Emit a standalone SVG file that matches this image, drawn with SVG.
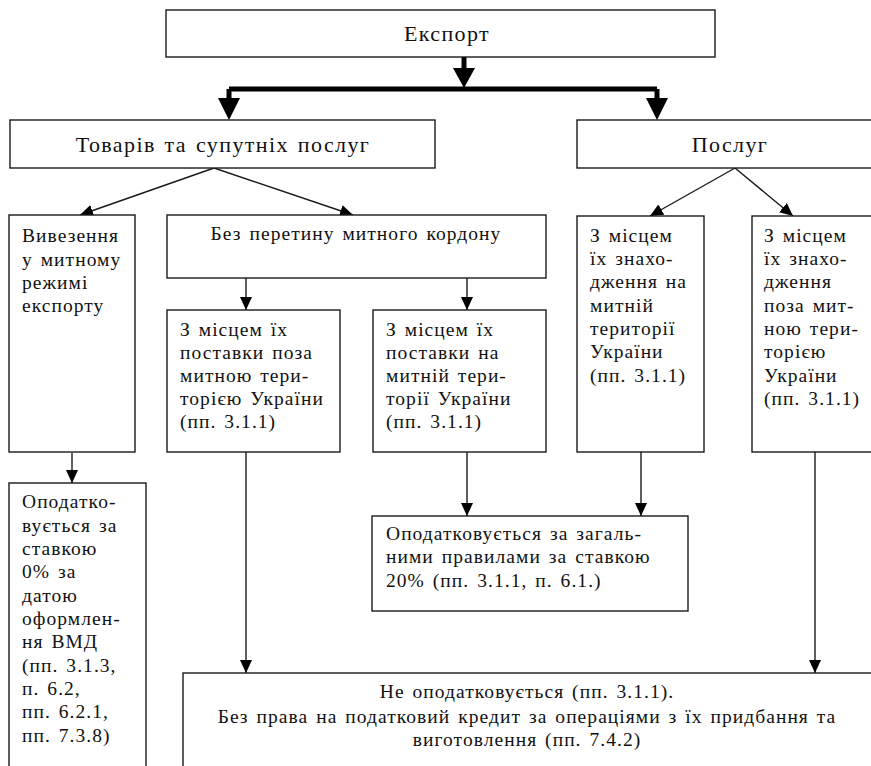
<svg xmlns="http://www.w3.org/2000/svg" width="871" height="766" viewBox="0 0 871 766">
  <style>
    .box { fill: #fff; stroke: #1a1a1a; stroke-width: 1.4; }
    .t { font-family: 'Liberation Serif', 'Times New Roman', 'DejaVu Serif', serif; font-size: 19.5px; letter-spacing: 1.05px; word-spacing: 2px; fill: #111; }
    .c { text-anchor: middle; }
    .big { font-size: 22px; letter-spacing: 1.4px; }
    .ln { fill: none; stroke: #1a1a1a; stroke-width: 1.4; }
    .thick { fill: none; stroke: #000; stroke-width: 5; }
  </style>
  <defs>
    <marker id="arr" markerUnits="userSpaceOnUse" markerWidth="13" markerHeight="12" refX="13" refY="6" orient="auto">
      <path d="M0,0 L13,6 L0,12 z" fill="#000"/>
    </marker>
  </defs>
  <rect width="871" height="766" fill="#fff"/>

  <g id="connectors">
    <!-- bold split from the top box -->
    <path class="thick" d="M464,57 V69"/>
    <path d="M453,68 L475,68 L464,88 z" fill="#000"/>
    <path class="thick" d="M229,89 H657"/>
    <path class="thick" d="M229,89 V100"/>
    <path d="M218,98 L240,98 L229,120 z" fill="#000"/>
    <path class="thick" d="M657,89 V100"/>
    <path d="M646,98 L668,98 L657,120 z" fill="#000"/>

    <path class="ln" d="M214,168 L80,215" marker-end="url(#arr)"/>
    <path class="ln" d="M214,168 L353,215" marker-end="url(#arr)"/>
    <path class="ln" d="M735,168 L650,216" marker-end="url(#arr)"/>
    <path class="ln" d="M735,168 L793,216" marker-end="url(#arr)"/>
    <path class="ln" d="M246,278 V310" marker-end="url(#arr)"/>
    <path class="ln" d="M467,278 V310" marker-end="url(#arr)"/>
    <path class="ln" d="M72,453 V483" marker-end="url(#arr)"/>
    <path class="ln" d="M246,452 V673" marker-end="url(#arr)"/>
    <path class="ln" d="M467,452 V516" marker-end="url(#arr)"/>
    <path class="ln" d="M641,452 V516" marker-end="url(#arr)"/>
    <path class="ln" d="M815,452 V673" marker-end="url(#arr)"/>
  </g>

  <g id="export">
    <rect class="box" x="166" y="10" width="549" height="47"/>
    <text class="t big c" x="447" y="41">Експорт</text>
  </g>

  <g id="goods">
    <rect class="box" x="10" y="120" width="425" height="48"/>
    <text class="t big c" x="223" y="152">Товарів та супутніх послуг</text>
  </g>

  <g id="services">
    <rect class="box" x="577" y="120" width="310" height="48"/>
    <text class="t big c" x="730" y="152">Послуг</text>
  </g>

  <g id="export-regime">
    <rect class="box" x="9" y="215" width="126" height="237"/>
    <text class="t" x="22" y="242">Вивезення</text>
    <text class="t" x="22" y="266">у митному</text>
    <text class="t" x="22" y="289">режимі</text>
    <text class="t" x="22" y="312">експорту</text>
  </g>

  <g id="no-border">
    <rect class="box" x="167" y="215" width="379" height="63"/>
    <text class="t c" x="356" y="240">Без перетину митного кордону</text>
  </g>

  <g id="goods-outside">
    <rect class="box" x="167" y="310" width="173" height="142"/>
    <text class="t" x="180" y="336">З місцем їх</text>
    <text class="t" x="180" y="359">поставки поза</text>
    <text class="t" x="180" y="382">митною тери-</text>
    <text class="t" x="180" y="405">торією України</text>
    <text class="t" x="180" y="428">(пп. 3.1.1)</text>
  </g>

  <g id="goods-inside">
    <rect class="box" x="373" y="310" width="173" height="142"/>
    <text class="t" x="386" y="336">З місцем їх</text>
    <text class="t" x="386" y="359">поставки на</text>
    <text class="t" x="386" y="382">митній тери-</text>
    <text class="t" x="386" y="405">торії України</text>
    <text class="t" x="386" y="428">(пп. 3.1.1)</text>
  </g>

  <g id="services-inside">
    <rect class="box" x="577" y="216" width="127" height="236"/>
    <text class="t" x="590" y="242">З місцем</text>
    <text class="t" x="590" y="265">їх знахо-</text>
    <text class="t" x="590" y="288">дження на</text>
    <text class="t" x="590" y="312">митній</text>
    <text class="t" x="590" y="335">території</text>
    <text class="t" x="590" y="358">України</text>
    <text class="t" x="590" y="382">(пп. 3.1.1)</text>
  </g>

  <g id="services-outside">
    <rect class="box" x="752" y="216" width="135" height="236"/>
    <text class="t" x="764" y="242">З місцем</text>
    <text class="t" x="764" y="265">їх знахо-</text>
    <text class="t" x="764" y="288">дження</text>
    <text class="t" x="764" y="312">поза мит-</text>
    <text class="t" x="764" y="335">ною тери-</text>
    <text class="t" x="764" y="358">торією</text>
    <text class="t" x="764" y="382">України</text>
    <text class="t" x="764" y="405">(пп. 3.1.1)</text>
  </g>

  <g id="zero-rate">
    <rect class="box" x="9" y="483" width="137" height="300"/>
    <text class="t" x="22" y="508">Оподатко-</text>
    <text class="t" x="22" y="532">вується за</text>
    <text class="t" x="22" y="555">ставкою</text>
    <text class="t" x="22" y="578">0% за</text>
    <text class="t" x="22" y="602">датою</text>
    <text class="t" x="22" y="625">оформлен-</text>
    <text class="t" x="22" y="648">ня ВМД</text>
    <text class="t" x="22" y="672">(пп.  3.1.3,</text>
    <text class="t" x="22" y="695">п. 6.2,</text>
    <text class="t" x="22" y="718">пп. 6.2.1,</text>
    <text class="t" x="22" y="742">пп. 7.3.8)</text>
  </g>

  <g id="general-rate">
    <rect class="box" x="372" y="516" width="316" height="95"/>
    <text class="t" x="386" y="540">Оподатковується за загаль-</text>
    <text class="t" x="386" y="563">ними правилами за ставкою</text>
    <text class="t" x="386" y="587">20% (пп. 3.1.1, п. 6.1.)</text>
  </g>

  <g id="not-taxed">
    <rect class="box" x="183" y="673" width="710" height="110"/>
    <text class="t c" x="527" y="698">Не оподатковується (пп.  3.1.1).</text>
    <text class="t c" x="527" y="723">Без права на податковий кредит за операціями з їх придбання та</text>
    <text class="t c" x="527" y="746">виготовлення (пп. 7.4.2)</text>
  </g>
</svg>
